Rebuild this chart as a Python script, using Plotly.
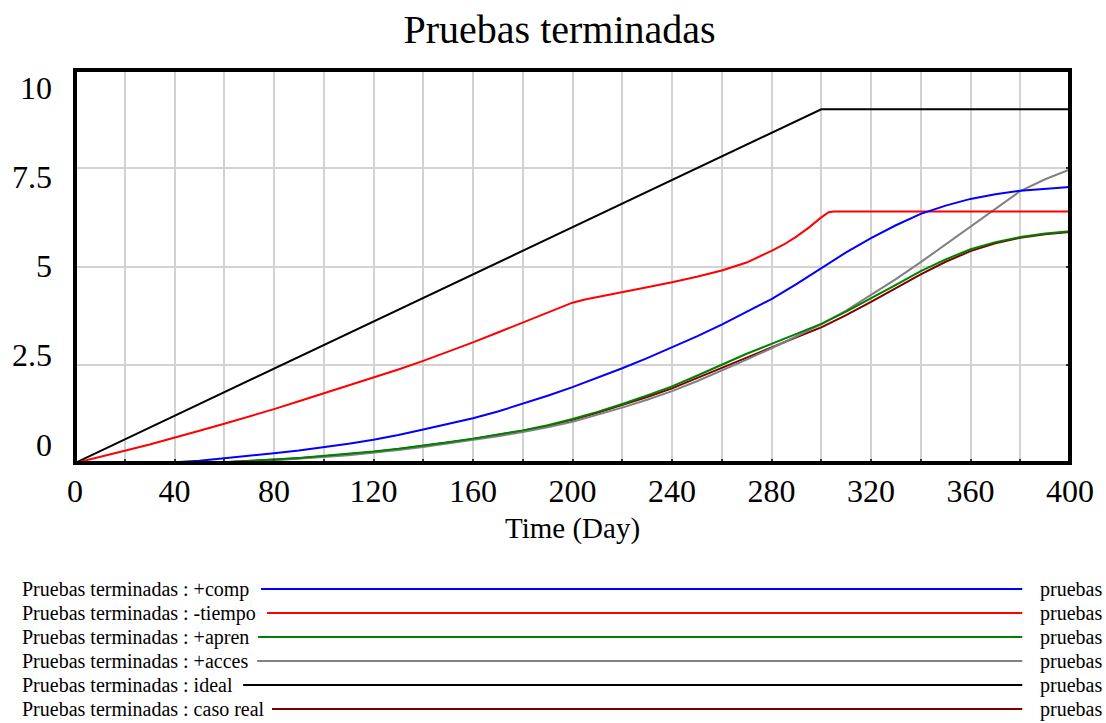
import plotly.graph_objects as go

# ---- data -------------------------------------------------------------
chart_title = "Pruebas terminadas"
x_title = "Time (Day)"
unit_label = "pruebas"
var_name = "Pruebas terminadas"

x_tick_vals = list(range(0, 401, 20))
x_tick_labels = [str(v) if v % 40 == 0 else "" for v in x_tick_vals]
y_tick_vals = [0, 2.5, 5, 7.5, 10]
y_tick_labels = ["0", "2.5", "5", "7.5", "10"]

days10 = list(range(0, 401, 10))

comp_days = days10
comp_vals = [0, 0, 0, 0, 0.02, 0.06, 0.12, 0.18, 0.25, 0.32,
             0.40, 0.49, 0.59, 0.71, 0.85, 0.99, 1.14, 1.31, 1.50, 1.71,
             1.93, 2.16, 2.41, 2.67, 2.94, 3.22, 3.52, 3.84, 4.17, 4.55,
             4.96, 5.36, 5.72, 6.05, 6.34, 6.55, 6.72, 6.84, 6.93, 6.98,
             7.02]

tiempo_days = [0, 10, 20, 30, 40, 50, 60, 70, 80, 90, 100, 110, 120, 130,
               140, 150, 160, 170, 180, 190, 200, 205, 210, 220, 230, 240,
               250, 260, 270, 280, 285, 290, 295, 300, 303, 305, 400]
tiempo_vals = [0, 0.15, 0.31, 0.47, 0.64, 0.82, 1.00, 1.18, 1.37, 1.57,
               1.77, 1.97, 2.17, 2.38, 2.60, 2.83, 3.07, 3.32, 3.57, 3.82,
               4.08, 4.16, 4.22, 4.35, 4.47, 4.60, 4.74, 4.90, 5.10, 5.40,
               5.56, 5.76, 5.99, 6.25, 6.38, 6.40, 6.40]

apren_days = days10
apren_vals = [0, 0, 0, 0, 0, 0, 0.02, 0.05, 0.09, 0.13,
              0.18, 0.23, 0.29, 0.36, 0.44, 0.53, 0.62, 0.72, 0.83, 0.96,
              1.12, 1.30, 1.50, 1.72, 1.95, 2.22, 2.50, 2.78, 3.03, 3.28,
              3.54, 3.85, 4.18, 4.53, 4.88, 5.18, 5.44, 5.62, 5.75, 5.84,
              5.90]

acces_days = days10
acces_vals = [0, 0, 0, 0, 0, 0, 0.01, 0.03, 0.07, 0.10,
              0.15, 0.20, 0.26, 0.33, 0.41, 0.50, 0.59, 0.68, 0.79, 0.91,
              1.05, 1.22, 1.41, 1.61, 1.83, 2.08, 2.35, 2.63, 2.92, 3.22,
              3.53, 3.88, 4.27, 4.68, 5.11, 5.56, 6.02, 6.48, 6.92, 7.22,
              7.47]

ideal_days = [0, 300, 400]
ideal_vals = [0, 9.0, 9.0]

real_days = days10
real_vals = [0, 0, 0, 0, 0, 0, 0.02, 0.05, 0.09, 0.12,
             0.17, 0.22, 0.28, 0.35, 0.43, 0.52, 0.61, 0.71, 0.82, 0.94,
             1.10, 1.28, 1.47, 1.68, 1.90, 2.16, 2.44, 2.70, 2.95, 3.20,
             3.45, 3.76, 4.10, 4.45, 4.80, 5.12, 5.39, 5.59, 5.73, 5.82,
             5.88]

series_names = ["+comp", "-tiempo", "+apren", "+acces", "ideal", "caso real"]
series_days = [comp_days, tiempo_days, apren_days, acces_days, ideal_days, real_days]
series_vals = [comp_vals, tiempo_vals, apren_vals, acces_vals, ideal_vals, real_vals]

# ---- styling ----------------------------------------------------------
FONT = "Liberation Serif, Times New Roman, serif"
colors = {"+comp": "#0000ff", "-tiempo": "#ff0000", "+apren": "#008000",
          "+acces": "#808080", "ideal": "#000000", "caso real": "#800000"}
draw_order = ["ideal", "caso real", "+acces", "+apren", "-tiempo", "+comp"]

W, H = 1106, 723
L, R, T, B = 75, 1075, 70, 463          # plot area in pixels
PW, PH = R - L, B - T


def px_x(px):
    return (px - L) / PW


def px_y(py):
    return (B - py) / PH


fig = go.Figure()

for name in draw_order:
    i = series_names.index(name)
    fig.add_trace(go.Scatter(
        x=series_days[i], y=series_vals[i], mode="lines",
        line=dict(color=colors[name], width=2),
        name=f"{var_name} : {name}", showlegend=False,
    ))

# empty trace carrying the label axis on the left
fig.add_trace(go.Scatter(x=[None], y=[None], yaxis="y2", showlegend=False,
                         hoverinfo="skip"))

fig.update_layout(
    width=W, height=H, autosize=False,
    margin=dict(l=L, r=W - R, t=T, b=H - B),
    paper_bgcolor="white", plot_bgcolor="white",
    font=dict(family=FONT, color="black"),
    title=dict(text=chart_title, font=dict(size=40, family=FONT, color="black"),
               x=px_x(562), xref="paper", xanchor="center",
               y=1 - 29 / H, yref="container", yanchor="middle"),
    xaxis=dict(range=[0, 400], tickmode="array", tickvals=x_tick_vals,
               ticktext=x_tick_labels, showgrid=True, gridcolor="#d2d2d2",
               gridwidth=1.5, zeroline=False, ticks="inside", ticklen=4,
               tickcolor="#333333", tickwidth=1.5,
               tickfont=dict(size=32, family=FONT, color="black"),
               ticklabelstandoff=6, showline=False),
    yaxis=dict(range=[0, 10], tickmode="array", tickvals=y_tick_vals,
               showticklabels=False, side="right", showgrid=True,
               gridcolor="#d2d2d2", gridwidth=1.5, zeroline=False,
               ticks="inside", ticklen=4, tickcolor="#333333", tickwidth=1.5,
               showline=False),
    yaxis2=dict(overlaying="y", side="left", range=[-0.518, 10.49],
                tickmode="array", tickvals=y_tick_vals, ticktext=y_tick_labels,
                showgrid=False, zeroline=False, ticks="", showline=False,
                tickfont=dict(size=32, family=FONT, color="black"),
                ticklabelstandoff=22),
)

# plot frame
fig.add_shape(type="rect", xref="paper", yref="paper", x0=0, x1=1, y0=0, y1=1,
              line=dict(color="black", width=4), layer="above")

# x axis title
fig.add_annotation(text=x_title, xref="paper", yref="paper",
                   x=0.5, y=px_y(528), xanchor="center", yanchor="middle",
                   showarrow=False, font=dict(size=29, family=FONT, color="black"))

# legend block below the chart
row_y = [589, 613, 637, 661, 685, 709]
key_start = {"+comp": 262, "-tiempo": 268, "+apren": 259,
             "+acces": 258, "ideal": 244, "caso real": 273}
key_end = 1027
for name, py in zip(series_names, row_y):
    fig.add_annotation(text=f"{var_name} : {name}", xref="paper", yref="paper",
                       x=px_x(20), y=px_y(py), xanchor="left", yanchor="middle",
                       showarrow=False, font=dict(size=20, family=FONT, color="black"))
    fig.add_shape(type="line", xref="paper", yref="paper",
                  x0=px_x(key_start[name]), x1=px_x(key_end),
                  y0=px_y(py), y1=px_y(py),
                  line=dict(color=colors[name], width=2))
    fig.add_annotation(text=unit_label, xref="paper", yref="paper",
                       x=px_x(1043), y=px_y(py), xanchor="left", yanchor="middle",
                       showarrow=False, font=dict(size=20, family=FONT, color="black"))

fig.write_html("out.html")
